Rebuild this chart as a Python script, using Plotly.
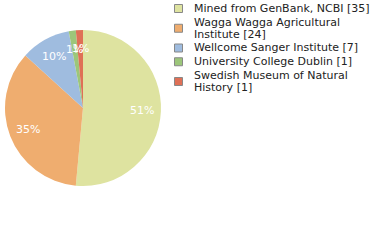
import math
import plotly.graph_objects as go

labels = ["Mined from GenBank, NCBI [35]",
          "Wagga Wagga Agricultural<br>Institute [24]",
          "Wellcome Sanger Institute [7]",
          "University College Dublin [1]",
          "Swedish Museum of Natural<br>History [1]"]
values = [35, 24, 7, 1, 1]
colors = ["#dee3a0", "#efad6f", "#9fbcdf", "#9cc67a", "#df7056"]

W, H = 380, 240
dom_x = [5, 161]     # pixels
dom_y = [30, 186]    # pixels from top
fig = go.Figure(go.Pie(
    labels=labels, values=values, sort=False, direction="clockwise", rotation=0,
    marker=dict(colors=colors, line=dict(width=0)),
    textinfo="none", hoverinfo="label+percent",
    domain=dict(x=[dom_x[0]/W, dom_x[1]/W], y=[1-dom_y[1]/H, 1-dom_y[0]/H]),
    showlegend=False,
))

shapes, annotations = [], []

# percent labels placed along each slice's mid-angle
cx = (dom_x[0] + dom_x[1]) / 2
cy = (dom_y[0] + dom_y[1]) / 2
R = (dom_x[1] - dom_x[0]) / 2
total = sum(values)
acc = 0
for v in values:
    mid = (acc + v / 2) / total * 2 * math.pi
    acc += v
    r = 0.76 * R
    px = cx + r * math.sin(mid)
    py = cy - r * math.cos(mid)
    annotations.append(dict(text=f"{round(100*v/total)}%", xref="paper", yref="paper",
                            x=px/W, y=1-py/H, xanchor="center", yanchor="middle",
                            showarrow=False,
                            font=dict(size=11, family="DejaVu Sans", color="white")))

# compact legend built from labels/colors
y = 8.5
line_h, gap = 12, 1.75
for lab, col in zip(labels, colors):
    lines = lab.split("<br>")
    ys = [y + i * line_h for i in range(len(lines))]
    yc = sum(ys) / len(ys)
    shapes.append(dict(type="rect", xref="paper", yref="paper",
                       x0=174.5/W, x1=182.5/W, y0=1-(yc-4)/H, y1=1-(yc+4)/H,
                       fillcolor=col, line=dict(color="#888888", width=1)))
    for ln, yy in zip(lines, ys):
        annotations.append(dict(text=ln, xref="paper", yref="paper",
                                x=192/W, y=1-yy/H, xanchor="left", yanchor="middle",
                                showarrow=False,
                                font=dict(size=11, family="DejaVu Sans", color="#222222")))
    y = ys[-1] + line_h + gap

fig.update_layout(
    width=W, height=H, margin=dict(l=0, r=0, t=0, b=0),
    paper_bgcolor="white", plot_bgcolor="white",
    shapes=shapes, annotations=annotations,
)
fig.write_html("out.html")
